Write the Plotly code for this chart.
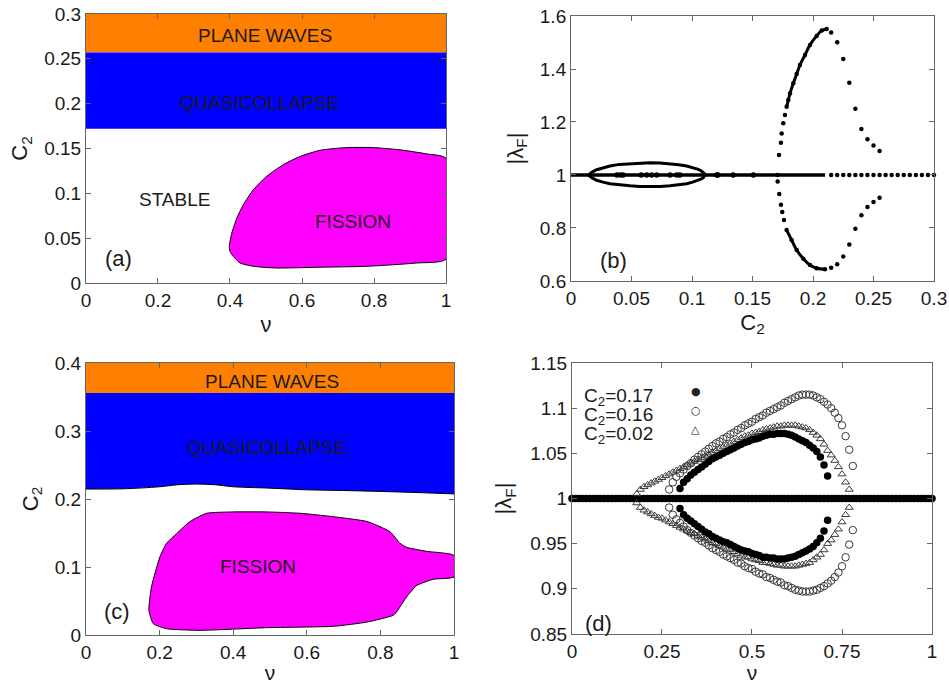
import plotly.graph_objects as go

# ---------------- data ----------------
# panel (a): phase diagram, nu in [0,1]
a_nu_span = [0.0, 1.0]
a_pw_bounds = [0.257, 0.3]      # plane waves band (C2)
a_qc_bounds = [0.172, 0.257]    # quasicollapse band (C2)
a_fis_nu = [0.398, 0.405, 0.419, 0.437, 0.465, 0.502, 0.548, 0.594, 0.65, 0.724, 0.798,
            0.872, 0.946, 1.0, 1.0, 0.919, 0.78, 0.641, 0.53, 0.465, 0.428, 0.409, 0.40, 0.398]
a_fis_c = [0.0408, 0.0557, 0.0724, 0.0873, 0.104, 0.119, 0.132, 0.141, 0.148, 0.151, 0.151,
           0.1485, 0.144, 0.139, 0.0267, 0.0223, 0.0186, 0.0175, 0.0167, 0.0186, 0.0223, 0.0297, 0.0353, 0.0408]

# panel (c): phase diagram
c_nu_span = [0.0, 1.0]
c_pw_bounds = [0.3558, 0.4]
c_qc_top = 0.3558
c_qc_nu = [0.0, 0.1, 0.2, 0.25, 0.3, 0.35, 0.4, 0.5, 0.6, 0.7, 0.8, 0.9, 1.0]
c_qc_low = [0.2147, 0.215, 0.218, 0.221, 0.222, 0.221, 0.218, 0.216, 0.2135, 0.2125, 0.2112, 0.2095, 0.2075]
c_fis_nu = [0.171, 0.178, 0.201, 0.219, 0.246, 0.283, 0.328, 0.40, 0.491, 0.582, 0.672, 0.763,
            0.826, 0.853, 0.871, 0.926, 1.0, 1.0, 0.944, 0.899, 0.871, 0.844, 0.835, 0.763,
            0.672, 0.491, 0.310, 0.219, 0.183, 0.171]
c_fis_c = [0.0364, 0.071, 0.115, 0.135, 0.149, 0.167, 0.179, 0.181, 0.181, 0.179, 0.174, 0.167,
           0.152, 0.135, 0.129, 0.123, 0.117, 0.0855, 0.082, 0.073, 0.056, 0.034, 0.029, 0.019,
           0.0128, 0.0108, 0.0069, 0.0093, 0.0167, 0.0364]

# panel (b): |lambda_F| vs C2
b_base_c = [0.0, 0.21]
b_base_l = [1.0, 1.0]
b_base_dot_c = [0.215, 0.22, 0.225, 0.23, 0.235, 0.24, 0.245, 0.25, 0.255, 0.26, 0.265, 0.27,
                0.275, 0.28, 0.285, 0.29, 0.295, 0.30]
b_base_dot_l = [1.0] * len(b_base_dot_c)
b_inner_c = [0.038, 0.041, 0.043, 0.058, 0.0625, 0.0667, 0.0708, 0.0818, 0.0874, 0.090,
             0.1204, 0.1215, 0.134, 0.1507]
b_inner_l = [1.0] * len(b_inner_c)
b_loop_c = [0.0143, 0.0175, 0.0212, 0.0265, 0.0322, 0.040, 0.0488, 0.057, 0.0653, 0.0735, 0.0818,
            0.089, 0.0956, 0.1005, 0.1052, 0.1078, 0.1093, 0.1103, 0.1107,
            0.1103, 0.1093, 0.1078, 0.1052, 0.1005, 0.0956, 0.089, 0.0818, 0.0735, 0.0653,
            0.057, 0.0488, 0.040, 0.0322, 0.0265, 0.0212, 0.0175, 0.0143]
b_loop_l = [1.0, 1.011, 1.020, 1.028, 1.034, 1.040, 1.043, 1.045, 1.046, 1.045, 1.043,
            1.039, 1.034, 1.028, 1.021, 1.015, 1.010, 1.005, 1.0,
            0.995, 0.990, 0.985, 0.980, 0.973, 0.967, 0.962, 0.959, 0.957, 0.956,
            0.957, 0.959, 0.962, 0.967, 0.973, 0.980, 0.989, 1.0]
b_up_sparse_c = [0.1707, 0.1719, 0.1735, 0.1741, 0.1754, 0.1768]
b_up_sparse_l = [1.0, 1.0755, 1.122, 1.157, 1.195, 1.226]
b_up_dense_c = [0.1782, 0.1796, 0.181, 0.1837, 0.1865, 0.1892, 0.1934, 0.1975, 0.203, 0.2072, 0.2113]
b_up_dense_l = [1.258, 1.283, 1.308, 1.346, 1.381, 1.415, 1.453, 1.491, 1.525, 1.545, 1.551]
b_lo_sparse_c = [0.1708, 0.1721, 0.1735, 0.1746, 0.176]
b_lo_sparse_l = [0.975, 0.928, 0.888, 0.860, 0.830]
b_lo_dense_c = [0.1782, 0.1823, 0.1865, 0.192, 0.1975, 0.203, 0.2099]
b_lo_dense_l = [0.792, 0.755, 0.717, 0.684, 0.660, 0.648, 0.644]
b_tail_c = [0.215, 0.22, 0.225, 0.23, 0.235, 0.24, 0.245, 0.25, 0.255]
b_tail_up = [1.538, 1.501, 1.438, 1.348, 1.250, 1.174, 1.135, 1.111, 1.091]
b_tail_lo = [0.650, 0.663, 0.692, 0.738, 0.797, 0.848, 0.879, 0.898, 0.914]

# panel (d): |lambda_F| vs nu
d_base_nu = [0.00, 0.01, 0.02, 0.03, 0.04, 0.05, 0.06, 0.07, 0.08, 0.09,
             0.10, 0.11, 0.12, 0.13, 0.14, 0.15, 0.16, 0.17, 0.18, 0.19,
             0.20, 0.21, 0.22, 0.23, 0.24, 0.25, 0.26, 0.27, 0.28, 0.29,
             0.30, 0.31, 0.32, 0.33, 0.34, 0.35, 0.36, 0.37, 0.38, 0.39,
             0.40, 0.41, 0.42, 0.43, 0.44, 0.45, 0.46, 0.47, 0.48, 0.49,
             0.50, 0.51, 0.52, 0.53, 0.54, 0.55, 0.56, 0.57, 0.58, 0.59,
             0.60, 0.61, 0.62, 0.63, 0.64, 0.65, 0.66, 0.67, 0.68, 0.69,
             0.70, 0.71, 0.72, 0.73, 0.74, 0.75, 0.76, 0.77, 0.78, 0.79,
             0.80, 0.81, 0.82, 0.83, 0.84, 0.85, 0.86, 0.87, 0.88, 0.89,
             0.90, 0.91, 0.92, 0.93, 0.94, 0.95, 0.96, 0.97, 0.98, 0.99, 1.00]
d_base_l = [1.0] * len(d_base_nu)

d_nu17 = [0.30, 0.31, 0.32, 0.33, 0.34, 0.35, 0.36, 0.37, 0.38, 0.39, 0.40, 0.41, 0.42, 0.43,
          0.44, 0.45, 0.46, 0.47, 0.48, 0.49, 0.50, 0.51, 0.52, 0.53, 0.54, 0.55, 0.56, 0.57,
          0.58, 0.59, 0.60, 0.61, 0.62, 0.63, 0.64, 0.65, 0.66, 0.67, 0.68, 0.69, 0.70, 0.71]
d_up17 = [1.011, 1.018, 1.022, 1.026, 1.029, 1.032, 1.035, 1.038, 1.041, 1.044, 1.046, 1.048,
          1.050, 1.052, 1.054, 1.056, 1.058, 1.060, 1.062, 1.063, 1.065, 1.066, 1.067, 1.069,
          1.070, 1.071, 1.071, 1.072, 1.072, 1.072, 1.071, 1.070, 1.068, 1.066, 1.064, 1.062,
          1.059, 1.056, 1.052, 1.046, 1.037, 1.025]
d_lo17 = [0.989, 0.982, 0.978, 0.975, 0.972, 0.969, 0.966, 0.963, 0.961, 0.958, 0.956, 0.954,
          0.952, 0.951, 0.949, 0.947, 0.945, 0.943, 0.942, 0.941, 0.939, 0.938, 0.937, 0.935,
          0.935, 0.934, 0.934, 0.933, 0.933, 0.933, 0.934, 0.935, 0.936, 0.938, 0.940, 0.942,
          0.944, 0.947, 0.951, 0.956, 0.964, 0.976]

d_nu16 = [0.27, 0.28, 0.29, 0.30, 0.31, 0.32, 0.33, 0.34, 0.35, 0.36, 0.37, 0.38, 0.39, 0.40,
          0.41, 0.42, 0.43, 0.44, 0.45, 0.46, 0.47, 0.48, 0.49, 0.50, 0.51, 0.52, 0.53, 0.54,
          0.55, 0.56, 0.57, 0.58, 0.59, 0.60, 0.61, 0.62, 0.63, 0.64, 0.65, 0.66, 0.67, 0.68,
          0.69, 0.70, 0.71, 0.72, 0.73, 0.74, 0.75, 0.76, 0.77, 0.78]
d_up16 = [1.010, 1.018, 1.024, 1.028, 1.032, 1.036, 1.039, 1.043, 1.046, 1.049,
          1.052, 1.055, 1.058, 1.061, 1.063, 1.066, 1.068, 1.071, 1.073, 1.076,
          1.078, 1.081, 1.083, 1.085, 1.088, 1.090, 1.092, 1.095, 1.097, 1.099,
          1.101, 1.103, 1.106, 1.108, 1.110, 1.112, 1.114, 1.115, 1.115, 1.115,
          1.114, 1.112, 1.110, 1.107, 1.104, 1.100, 1.095, 1.089, 1.081, 1.069,
          1.054, 1.036]
d_lo16 = [0.990, 0.982, 0.977, 0.973, 0.969, 0.965, 0.962, 0.959, 0.956, 0.953,
          0.951, 0.948, 0.945, 0.943, 0.941, 0.938, 0.936, 0.934, 0.932, 0.929,
          0.928, 0.925, 0.923, 0.922, 0.919, 0.917, 0.916, 0.913, 0.912, 0.910,
          0.908, 0.907, 0.904, 0.903, 0.901, 0.899, 0.898, 0.897, 0.897, 0.897,
          0.898, 0.899, 0.901, 0.903, 0.906, 0.909, 0.913, 0.918, 0.925, 0.935,
          0.949, 0.965]

d_nu02 = [0.18, 0.19, 0.20, 0.21, 0.22, 0.23, 0.24, 0.25, 0.26, 0.27, 0.28, 0.29, 0.30, 0.31,
          0.32, 0.33, 0.34, 0.35, 0.36, 0.37, 0.38, 0.39, 0.40, 0.41, 0.42, 0.43, 0.44, 0.45,
          0.46, 0.47, 0.48, 0.49, 0.50, 0.51, 0.52, 0.53, 0.54, 0.55, 0.56, 0.57, 0.58, 0.59,
          0.60, 0.61, 0.62, 0.63, 0.64, 0.65, 0.66, 0.67, 0.68, 0.69, 0.70, 0.71, 0.72, 0.73,
          0.74, 0.75, 0.76, 0.77]
d_up02 = [1.005, 1.010, 1.013, 1.015, 1.017, 1.019, 1.021, 1.023, 1.025, 1.027,
          1.029, 1.031, 1.033, 1.035, 1.037, 1.039, 1.041, 1.043, 1.045, 1.047,
          1.049, 1.051, 1.053, 1.055, 1.057, 1.059, 1.061, 1.063, 1.065, 1.067,
          1.069, 1.070, 1.072, 1.073, 1.074, 1.076, 1.077, 1.078, 1.079, 1.080,
          1.080, 1.081, 1.081, 1.081, 1.081, 1.080, 1.079, 1.078, 1.076, 1.073,
          1.070, 1.066, 1.060, 1.053, 1.048, 1.042, 1.035, 1.027, 1.018, 1.010]
d_lo02 = [0.995, 0.990, 0.987, 0.985, 0.983, 0.981, 0.979, 0.978, 0.976, 0.974,
          0.972, 0.970, 0.968, 0.966, 0.964, 0.962, 0.961, 0.959, 0.957, 0.955,
          0.953, 0.951, 0.950, 0.948, 0.946, 0.944, 0.943, 0.941, 0.939, 0.937,
          0.935, 0.935, 0.933, 0.932, 0.931, 0.929, 0.929, 0.928, 0.927, 0.926,
          0.926, 0.925, 0.925, 0.925, 0.925, 0.926, 0.927, 0.928, 0.929, 0.932,
          0.935, 0.938, 0.943, 0.950, 0.954, 0.960, 0.966, 0.974, 0.982, 0.990]

legend_labels = ["C<sub>2</sub>=0.17", "C<sub>2</sub>=0.16", "C<sub>2</sub>=0.02"]
legend_glyphs = ["\u25CF", "\u25CB", "\u25B3"]

# tick labels
a_xt = [0, 0.2, 0.4, 0.6, 0.8, 1]
a_xl = ["0", "0.2", "0.4", "0.6", "0.8", "1"]
a_yt = [0, 0.05, 0.1, 0.15, 0.2, 0.25, 0.3]
a_yl = ["0", "0.05", "0.1", "0.15", "0.2", "0.25", "0.3"]
b_xt = [0, 0.05, 0.1, 0.15, 0.2, 0.25, 0.3]
b_xl = ["0", "0.05", "0.1", "0.15", "0.2", "0.25", "0.3"]
b_yt = [0.6, 0.8, 1.0, 1.2, 1.4, 1.6]
b_yl = ["0.6", "0.8", "1", "1.2", "1.4", "1.6"]
c_yt = [0, 0.1, 0.2, 0.3, 0.4]
c_yl = ["0", "0.1", "0.2", "0.3", "0.4"]
d_xt = [0, 0.25, 0.5, 0.75, 1]
d_xl = ["0", "0.25", "0.5", "0.75", "1"]
d_yt = [0.85, 0.9, 0.95, 1.0, 1.05, 1.1, 1.15]
d_yl = ["0.85", "0.9", "0.95", "1", "1.05", "1.1", "1.15"]

# ---------------- styling ----------------
ORANGE = "#ff8000"
BLUE = "#0000ff"
MAGENTA = "#ff00ff"
FONT = "Liberation Sans, Arial, Helvetica, sans-serif"
TXT = "#1a1a1a"

fig = go.Figure()


def band(xspan, bounds, color, xa, ya):
    fig.add_trace(go.Scatter(
        x=[xspan[0], xspan[1], xspan[1], xspan[0]],
        y=[bounds[0], bounds[0], bounds[1], bounds[1]],
        fill="toself", fillcolor=color, mode="none",
        xaxis=xa, yaxis=ya, showlegend=False, hoverinfo="skip"))


# (a)
band(a_nu_span, a_pw_bounds, ORANGE, "x", "y")
band(a_nu_span, a_qc_bounds, BLUE, "x", "y")
fig.add_trace(go.Scatter(x=a_fis_nu, y=a_fis_c, fill="toself", fillcolor=MAGENTA,
                         mode="lines", line=dict(color="black", width=1, shape="spline", smoothing=0.6),
                         xaxis="x", yaxis="y", showlegend=False, hoverinfo="skip"))

# (c)
band(c_nu_span, c_pw_bounds, ORANGE, "x3", "y3")
fig.add_trace(go.Scatter(x=c_qc_nu + c_qc_nu[::-1],
                         y=c_qc_low + [c_qc_top] * len(c_qc_nu),
                         fill="toself", fillcolor=BLUE, mode="none",
                         xaxis="x3", yaxis="y3", showlegend=False, hoverinfo="skip"))
fig.add_trace(go.Scatter(x=c_qc_nu, y=c_qc_low, mode="lines",
                         line=dict(color="black", width=1, shape="spline"),
                         xaxis="x3", yaxis="y3", showlegend=False, hoverinfo="skip"))
fig.add_trace(go.Scatter(x=c_fis_nu, y=c_fis_c, fill="toself", fillcolor=MAGENTA,
                         mode="lines", line=dict(color="black", width=1, shape="spline", smoothing=0.5),
                         xaxis="x3", yaxis="y3", showlegend=False, hoverinfo="skip"))

# (b)
fig.add_trace(go.Scatter(x=b_base_c, y=b_base_l, mode="lines", line=dict(color="black", width=3.5),
                         xaxis="x2", yaxis="y2", showlegend=False, cliponaxis=False))
fig.add_trace(go.Scatter(x=b_base_dot_c, y=b_base_dot_l, mode="markers",
                         marker=dict(color="black", size=4.5),
                         xaxis="x2", yaxis="y2", showlegend=False, cliponaxis=False))
fig.add_trace(go.Scatter(x=b_inner_c, y=b_inner_l, mode="markers",
                         marker=dict(color="black", size=5.5),
                         xaxis="x2", yaxis="y2", showlegend=False))
fig.add_trace(go.Scatter(x=b_loop_c, y=b_loop_l, mode="lines",
                         line=dict(color="black", width=3),
                         xaxis="x2", yaxis="y2", showlegend=False))
for cx, ly in [(b_up_sparse_c, b_up_sparse_l), (b_lo_sparse_c, b_lo_sparse_l),
               (b_tail_c, b_tail_up), (b_tail_c, b_tail_lo)]:
    fig.add_trace(go.Scatter(x=cx, y=ly, mode="markers", marker=dict(color="black", size=4.5),
                             xaxis="x2", yaxis="y2", showlegend=False))
for cx, ly in [(b_up_dense_c, b_up_dense_l), (b_lo_dense_c, b_lo_dense_l)]:
    fig.add_trace(go.Scatter(x=cx, y=ly, mode="lines+markers",
                             line=dict(color="black", width=3, shape="spline"),
                             marker=dict(color="black", size=4.5),
                             xaxis="x2", yaxis="y2", showlegend=False))

# (d)
fig.add_trace(go.Scatter(x=d_base_nu, y=d_base_l, mode="markers",
                         marker=dict(color="black", size=7.5),
                         xaxis="x4", yaxis="y4", showlegend=False, cliponaxis=False))
for ly in (d_up16, d_lo16):
    fig.add_trace(go.Scatter(x=d_nu16, y=ly, mode="markers",
                             marker=dict(symbol="circle-open", color="#3a3a3a", size=7.5, line=dict(width=1)),
                             xaxis="x4", yaxis="y4", showlegend=False))
for ly in (d_up02, d_lo02):
    fig.add_trace(go.Scatter(x=d_nu02, y=ly, mode="markers",
                             marker=dict(symbol="triangle-up-open", color="#3a3a3a", size=7, line=dict(width=1)),
                             xaxis="x4", yaxis="y4", showlegend=False))
for ly in (d_up17, d_lo17):
    fig.add_trace(go.Scatter(x=d_nu17, y=ly, mode="markers",
                             marker=dict(color="black", size=7.5),
                             xaxis="x4", yaxis="y4", showlegend=False))


def axis(domain, rng, tv, tt, title, standoff, anchor, tsize=22):
    return dict(domain=domain, range=rng, tickvals=tv, ticktext=tt, anchor=anchor,
                showline=True, linecolor="#666", linewidth=1, mirror="ticks",
                ticks="inside", ticklen=5, tickcolor="#666", showgrid=False, zeroline=False,
                tickfont=dict(family=FONT, size=19, color=TXT), automargin=False,
                title=dict(text=title, font=dict(family=FONT, size=tsize, color=TXT), standoff=standoff))


fig.update_layout(
    width=949, height=684, margin=dict(l=0, r=0, t=0, b=0),
    paper_bgcolor="white", plot_bgcolor="white",
    font=dict(family=FONT, color=TXT),
    xaxis=axis([0.0906, 0.4700], [0, 1], a_xt, a_xl, "\u03bd", 6, "y"),
    yaxis=axis([0.5863, 0.9795], [0, 0.3], a_yt, a_yl, "C<sub>2</sub>", 10, "x"),
    xaxis2=axis([0.6017, 0.9842], [0, 0.3], b_xt, b_xl, "C<sub>2</sub>", 6, "y2"),
    yaxis2=axis([0.5892, 0.9766], [0.6, 1.6], b_yt, b_yl, "|\u03bb<sub>F</sub>|", 10, "x2"),
    xaxis3=axis([0.0906, 0.4784], [0, 1], a_xt, a_xl, "\u03bd", 3, "y3", 21),
    yaxis3=axis([0.0716, 0.4693], [0, 0.4], c_yt, c_yl, "C<sub>2</sub>", 10, "x3"),
    xaxis4=axis([0.6027, 0.9821], [0, 1], d_xt, d_xl, "\u03bd", 3, "y4", 21),
    yaxis4=axis([0.0731, 0.4693], [0.85, 1.15], d_yt, d_yl, "|\u03bb<sub>F</sub>|", 12, "x4"),
)

lab = dict(family=FONT, size=19, color=TXT)
panel = dict(family=FONT, size=22, color=TXT)
ann = [
    dict(x=0.497, y=0.2755, xref="x", yref="y", text="PLANE WAVES", font=lab),
    dict(x=0.481, y=0.2018, xref="x", yref="y", text="QUASICOLLAPSE", font=lab),
    dict(x=0.245, y=0.0926, xref="x", yref="y", text="STABLE", font=lab),
    dict(x=0.741, y=0.0691, xref="x", yref="y", text="FISSION", font=lab),
    dict(x=0.09, y=0.0268, xref="x", yref="y", text="(a)", font=panel),
    dict(x=0.0226, y=0.679, xref="x2", yref="y2", text="(b)", font=panel, xanchor="left"),
    dict(x=0.505, y=0.3725, xref="x3", yref="y3", text="PLANE WAVES", font=lab),
    dict(x=0.491, y=0.276, xref="x3", yref="y3", text="QUASICOLLAPSE", font=lab),
    dict(x=0.468, y=0.1005, xref="x3", yref="y3", text="FISSION", font=lab),
    dict(x=0.083, y=0.0343, xref="x3", yref="y3", text="(c)", font=panel),
    dict(x=0.073, y=0.862, xref="x4", yref="y4", text="(d)", font=panel),
]
leg_y = [0.926, 0.856, 0.786]
for t, g, yy in zip(legend_labels, legend_glyphs, leg_y):
    ann.append(dict(x=0.028, y=yy, xref="x4 domain", yref="y4 domain", text=t, xanchor="left",
                    font=dict(family=FONT, size=19, color=TXT)))
    ann.append(dict(x=0.325, y=yy, xref="x4 domain", yref="y4 domain", text=g,
                    font=dict(family="DejaVu Sans", size=11, color="#222")))
for a in ann:
    a.setdefault("showarrow", False)
fig.update_layout(annotations=ann)

fig.write_html("out.html", config={"displayModeBar": False},
               post_script="document.body.style.margin='0';")
